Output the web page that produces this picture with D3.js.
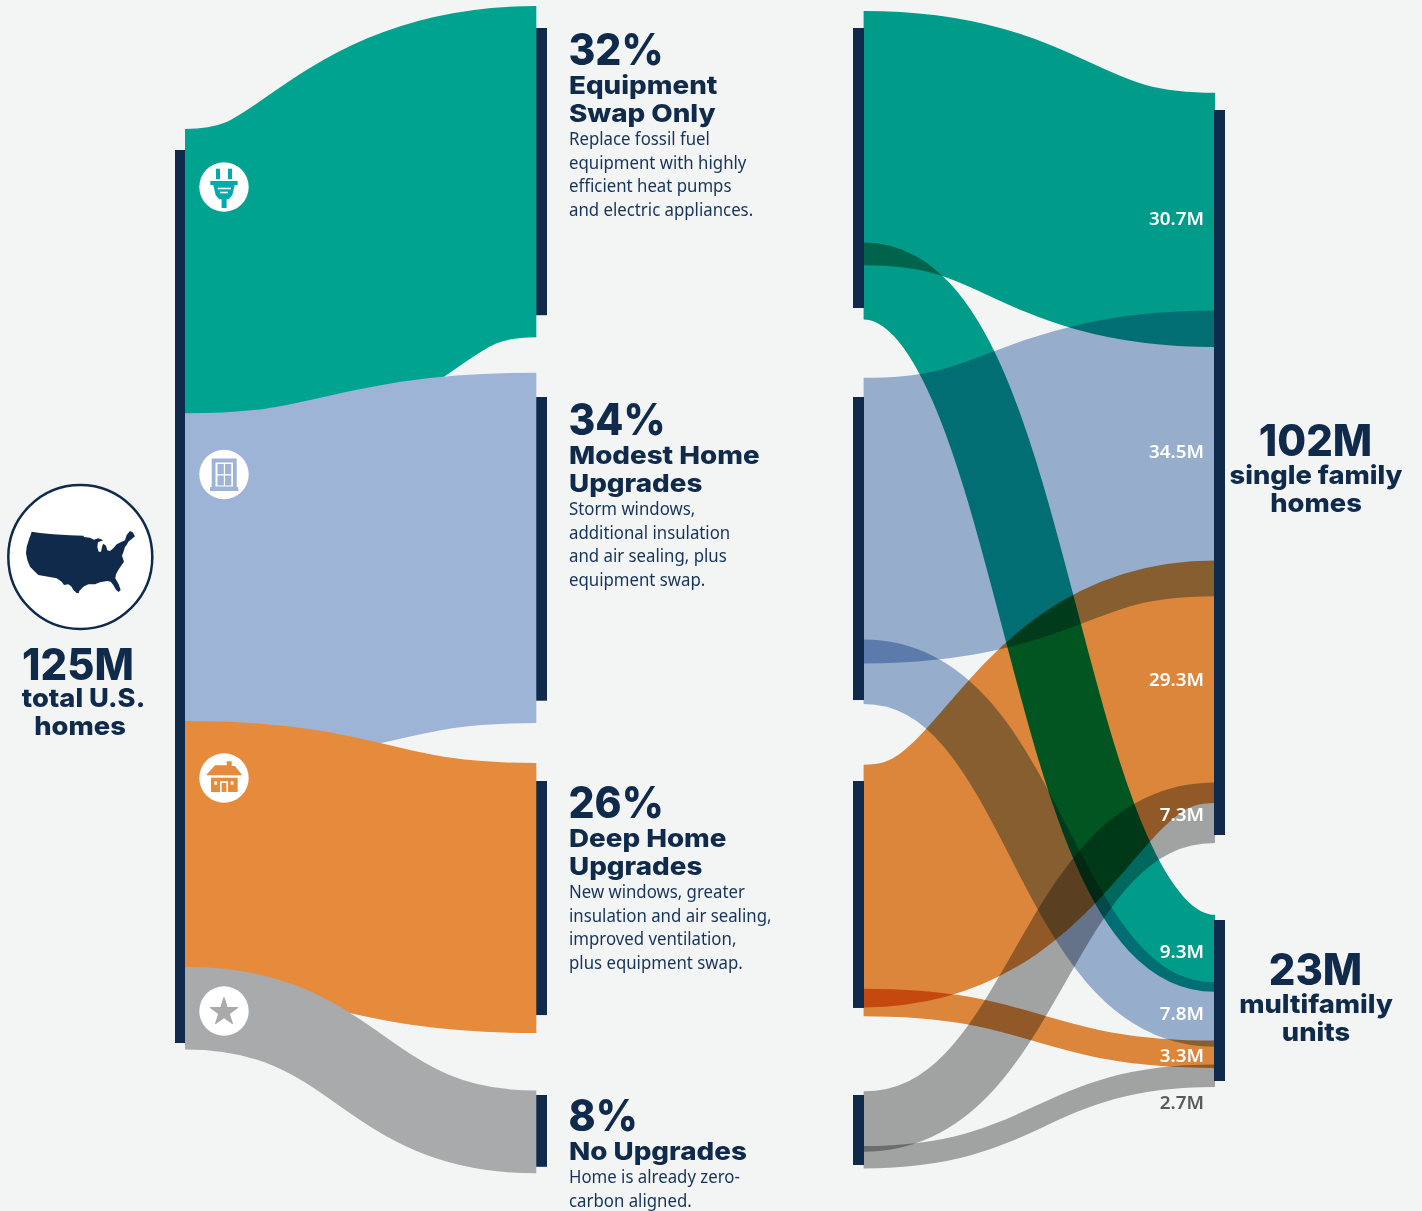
<!DOCTYPE html>
<html>
<head>
<meta charset="utf-8">
<title>Home upgrades needed across 125M U.S. homes</title>
<script src="https://cdn.jsdelivr.net/npm/d3@7/dist/d3.min.js"></script>
<style>
  html, body { margin: 0; padding: 0; background: #F3F5F4; }
  svg { display: block; }
  .heavy { font-family: Inter, sans-serif; font-weight: 800; fill: #0F2A4A; }
  .body  { font-family: "Noto Sans", sans-serif; font-weight: 400; fill: #17335A; }
  .value { font-family: "Noto Sans", sans-serif; font-weight: 600; }
  .flow-right { mix-blend-mode: multiply; }
</style>
</head>
<body>
<div id="chart"></div>
<script>
// Upgrade tiers, in millions of homes
const tierPercent = [32, 34, 26, 8];
const tierHomes = [40, 42.3, 32.6, 10];
const toSingleFamily = [30.7, 34.5, 29.3, 7.3];
const toMultifamily = [9.3, 7.8, 3.3, 2.7];
const totalHomes = 125;
const singleFamilyTotal = 102;
const multifamilyTotal = 23;

const tierNames = [
  ["Equipment", "Swap Only"],
  ["Modest Home", "Upgrades"],
  ["Deep Home", "Upgrades"],
  ["No Upgrades"]
];
const tierNotes = [
  ["Replace fossil fuel", "equipment with highly", "efficient heat pumps", "and electric appliances."],
  ["Storm windows,", "additional insulation", "and air sealing, plus", "equipment swap."],
  ["New windows, greater", "insulation and air sealing,", "improved ventilation,", "plus equipment swap."],
  ["Home is already zero-", "carbon aligned."]
];
const tierColors = ["#00A38F", "#9DB4D6", "#E68B3C", "#A9AAAB"];

// Layout
const W = 1422, H = 1211;
const navy = "#0F2A4A";
const paper = "#F3F5F4";
const tierTops = [28, 397, 781, 1095];
const tierEndNudge = [0, -1, 0, 1];
const secondBarTrim = [5.6, -1, 5.8, 1.4];
const pctBaseline = [65, 435, 818, 1131];
const singleTop = 110, multiTop = 920;

const svg = d3.select("#chart").append("svg").attr("width", W).attr("height", H);
svg.append("rect").attr("width", W).attr("height", H).attr("fill", paper);

// Ribbon thickness and bar length, both in pixels per million homes
const ribbon = d3.scaleLinear().domain([0, 1]).range([0, 8.28]);
const yTotal = d3.scaleLinear().domain([0, totalHomes]).range([150, 1043]);
const yTotalFlow = d3.scaleLinear().domain([0, totalHomes]).range([151.6, 1044.6]);
const tierBar = d3.scaleLinear().domain([0, 1]).range([0, 7.18]);
const splitBar = d3.scaleLinear().domain([0, 1]).range([0, 7.14]);
const targetBand = d3.scaleLinear().domain([0, 1]).range([0, 7.16]);
const link = d3.linkHorizontal().x(d => d.x).y(d => d.y);

const bars = svg.append("g");
const flowsLeft = svg.append("g");
const flowsRight = svg.append("g");
const barsTop = svg.append("g");
const labels = svg.append("g");

function drawBar(layer, x, width, y0, y1) {
  layer.append("rect").attr("x", x).attr("width", width)
    .attr("y", y0).attr("height", y1 - y0).attr("fill", navy);
}

// Total homes into the four tiers
drawBar(bars, 175, 10.5, yTotal(0), yTotal(totalHomes));
const tierCum = d3.cumsum(tierHomes);
tierHomes.forEach((v, i) => {
  const sourceY = yTotalFlow(tierCum[i] - v / 2);
  const targetY = tierTops[i] + tierBar(v) / 2 + tierEndNudge[i];
  flowsLeft.append("path")
    .attr("d", link({ source: { x: 185, y: sourceY }, target: { x: 536.3, y: targetY } }))
    .attr("fill", "none").attr("stroke", tierColors[i]).attr("stroke-width", ribbon(v));
  drawBar(bars, 536, 11, tierTops[i], tierTops[i] + tierBar(v));
});

// Tiers into building types
let singleCum = 0, multiCum = 0;
const valueLabels = [];
tierHomes.forEach((v, i) => {
  const s = toSingleFamily[i], m = toMultifamily[i];
  const top = tierTops[i];
  const pieces = [
    { value: s, sourceY: top + splitBar(s / 2), targetY: singleTop + targetBand(singleCum + s / 2) },
    { value: m, sourceY: top + splitBar(s + m / 2), targetY: multiTop + targetBand(multiCum + m / 2) }
  ];
  pieces.forEach(p => {
    flowsRight.append("path").attr("class", "flow-right")
      .attr("d", link({ source: { x: 863.6, y: p.sourceY + 0.5 }, target: { x: 1215, y: p.targetY } }))
      .attr("fill", "none").attr("stroke", tierColors[i]).attr("stroke-width", ribbon(p.value));
    valueLabels.push({ value: p.value, y: p.targetY });
  });
  singleCum += s;
  multiCum += m;
  drawBar(barsTop, 853, 11, top, top + splitBar(v) - secondBarTrim[i]);
});
drawBar(barsTop, 1214, 11, singleTop, singleTop + 725);
drawBar(barsTop, 1214, 11, multiTop, multiTop + 161);

// Text helper: horizontal scale stands in for a wider display face
function text(x, y, str, cls, size, opts = {}) {
  const sx = opts.sx || 1;
  return labels.append("text")
    .attr("class", cls)
    .attr("transform", `translate(${x},${y}) scale(${sx},1)`)
    .attr("text-anchor", opts.anchor || "start")
    .attr("font-size", size)
    .style("fill", opts.fill || null)
    .text(str);
}

// Tier captions
tierPercent.forEach((p, i) => {
  let y = pctBaseline[i];
  text(568.5, y, p + "%", "heavy", 44, { sx: 0.93 });
  tierNames[i].forEach((line, k) => {
    y = pctBaseline[i] + 29 + k * 28;
    text(569, y, line, "heavy", 25, { sx: 1.11 });
  });
  tierNotes[i].forEach((line, k) => {
    text(569, y + 23 + k * 23.7, line, "body", 17.5, { sx: 0.96 });
  });
});

// Column captions
const bigFigure = { anchor: "middle", sx: 0.95 };
const subCaption = { anchor: "middle", sx: 1.05 };
text(78, 680, totalHomes + "M", "heavy", 44, bigFigure);
text(83.5, 707, "total U.S.", "heavy", 26, subCaption);
text(80, 735, "homes", "heavy", 26, subCaption);
text(1315.5, 456, singleFamilyTotal + "M", "heavy", 44, bigFigure);
text(1316, 484, "single family", "heavy", 26, subCaption);
text(1316, 512, "homes", "heavy", 26, subCaption);
text(1315.5, 985, multifamilyTotal + "M", "heavy", 44, bigFigure);
text(1316, 1013, "multifamily", "heavy", 26, subCaption);
text(1316, 1041, "units", "heavy", 26, subCaption);

// Flow values at the right edge; the smallest one sits below its ribbon
const valueNudge = new Map([[29.3, -1], [7.3, 3], [3.3, 3]]);
valueLabels.forEach(d => {
  const last = d.value === 2.7;
  text(1204, last ? d.y + 33 : d.y + 5 + (valueNudge.get(d.value) || 0), d.value.toFixed(1) + "M", "value", 18.5,
    { anchor: "end", fill: last ? "#555A5E" : "#FFFFFF", sx: 1.02 });
});

// USA badge
const badge = svg.append("g");
badge.append("circle").attr("cx", 80.3).attr("cy", 557).attr("r", 72)
  .attr("fill", "#FFFFFF").attr("stroke", navy).attr("stroke-width", 2.5);
const usOutline = [
  [35,20],[60,24],[100,28],[150,31],[190,32],[192,36],[210,38],[222,44],[235,40],[250,46],
  [234,52],[232,66],[236,80],[243,80],[247,62],[250,56],[258,62],[262,76],[270,78],[280,70],
  [290,58],[302,52],[315,46],[320,30],[330,18],[338,22],[345,34],[335,42],[325,50],[320,60],
  [315,66],[310,82],[306,92],[312,110],[305,120],[295,135],[288,148],[286,160],[296,178],[302,195],
  [296,201],[288,194],[280,180],[272,170],[262,168],[240,172],[225,178],[205,178],[190,185],[178,198],[176,205],
  [170,204],[160,195],[155,185],[145,178],[132,180],[125,170],[110,160],[85,155],[55,150],[45,140],
  [30,125],[22,105],[18,85],[20,65],[28,40],[32,30]
];
badge.append("path")
  .attr("transform", "translate(20,525) scale(0.3333)")
  .attr("d", d3.line()(usOutline) + "Z").attr("fill", navy);

// Tier icons on white discs
const iconCenters = [[224, 187], [224, 474.5], [224, 778], [224, 1011]];
iconCenters.forEach(([cx, cy]) => {
  svg.append("circle").attr("cx", cx).attr("cy", cy).attr("r", 24.7).attr("fill", "#FFFFFF");
});
function icon(i) {
  const [cx, cy] = iconCenters[i];
  return svg.append("g").attr("transform", `translate(${cx},${cy})`);
}
function poly(g, pts, fill) {
  g.append("path").attr("d", d3.line()(pts) + "Z").attr("fill", fill);
}
function box(g, x, y, w, h, fill) {
  g.append("rect").attr("x", x).attr("y", y).attr("width", w).attr("height", h).attr("fill", fill);
}

// Plug
const plug = icon(0), plugColor = "#00A9AE";
box(plug, -8, -18.3, 4, 10.6, plugColor);
box(plug, 4, -18.3, 4, 10.6, plugColor);
box(plug, -13.7, -6, 27.4, 4, plugColor);
poly(plug, [[-10.7,-2],[10.7,-2],[8.3,8.3],[4.7,12.3],[2.6,12.3],[2.6,21],[-2.4,21],[-2.4,12.3],[-4.7,12.3],[-8.3,8.3]], plugColor);
box(plug, -6.3, 0.7, 13.3, 1.6, "#FFFFFF");
box(plug, -4, 4.7, 8, 1.6, "#FFFFFF");

// Window
const pane = icon(1), paneColor = "#9DB4D6";
box(pane, -12.3, -16, 25, 29, paneColor);
box(pane, -14, 12.5, 28.3, 4, paneColor);
box(pane, -8.5, -12, 17.5, 24, "#FFFFFF");
box(pane, -6.5, -10.5, 6.3, 10.2, paneColor);
box(pane, 1, -10.5, 6.3, 10.2, paneColor);
box(pane, -6.5, 1, 6.3, 10, paneColor);
box(pane, 1, 1, 6.3, 10, paneColor);

// House
const house = icon(2), houseColor = "#E68B3C";
poly(house, [[-18,-2.7],[-9,-12.7],[2.7,-12.7],[2.7,-16.7],[7.7,-16.7],[7.7,-12],[11,-12],[18.3,-2.7]], houseColor);
box(house, -13, -0.3, 26.7, 14.3, houseColor);
box(house, -9.7, 3.3, 2.8, 3.4, "#FFFFFF");
box(house, 6.7, 3.3, 2.8, 3.4, "#FFFFFF");
box(house, -4, 3.3, 8, 10.7, "#FFFFFF");
box(house, -2.4, 5, 4.8, 9, houseColor);

// Star
icon(3).append("path")
  .attr("d", d3.symbol(d3.symbolStar).size(230)())
  .attr("transform", "translate(0,1)")
  .attr("fill", "#A9AAAB").attr("stroke", "#A9AAAB").attr("stroke-width", 1.2).attr("stroke-linejoin", "round");
</script>
</body>
</html>
